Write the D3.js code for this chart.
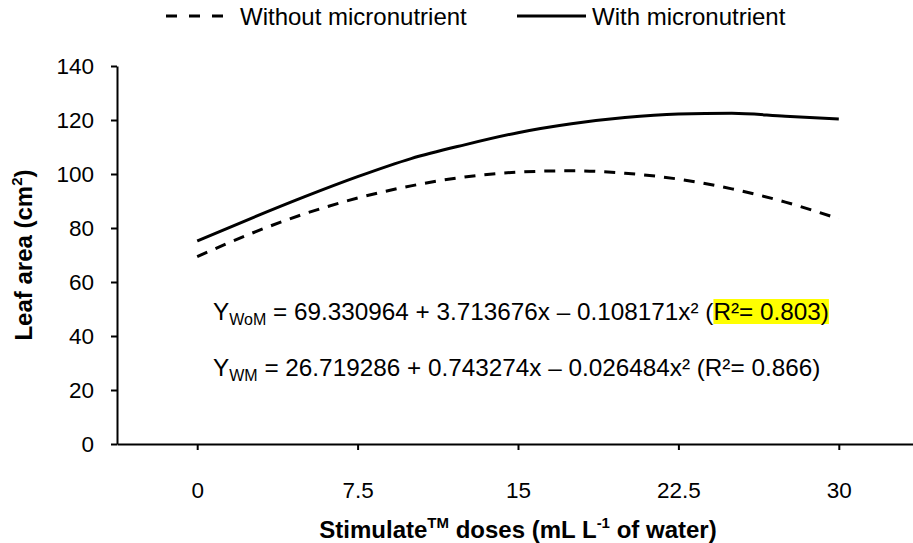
<!DOCTYPE html>
<html>
<head>
<meta charset="utf-8">
<script src="https://cdn.jsdelivr.net/npm/d3@7"></script>
<style>
  body { margin: 0; background: #fff; }
  svg { display: block; font-family: "Liberation Sans", Arial, sans-serif; }
</style>
</head>
<body>
<div id="chart"></div>
<script>
// data
const doses = [0, 2.5, 5, 7.5, 10, 12.5, 15, 17.5, 20, 22.5, 25, 27.5, 30];
const withoutMicro = [69.4, 77.9, 85.2, 91.1, 95.6, 98.9, 100.7, 101.2, 100.3, 98.1, 94.5, 89.6, 83.4];
const withMicro = [75.2, 83.5, 91.5, 99.0, 105.7, 110.8, 115.3, 118.6, 120.9, 122.2, 122.5, 121.4, 120.4];
const xTicks = [0, 7.5, 15, 22.5, 30];
const yTicks = [0, 20, 40, 60, 80, 100, 120, 140];
const legendLabels = ["Without micronutrient", "With micronutrient"];
const eqWoM = ["Y", "WoM", " = 69.330964 + 3.713676x – 0.108171x² (", "R²= 0.803)"];
const eqWM = ["Y", "WM", " = 26.719286 + 0.743274x – 0.026484x² (R²= 0.866)"];

let width = 913,
  height = 543,
  margin = ({ top: 66, right: 0, bottom: 99, left: 117 });

const svg = d3.select("#chart")
  .append("svg")
  .attr("width", width)
  .attr("height", height);

let x = d3.scaleLinear()
  .domain([-3.75, 33.75])
  .range([margin.left, 919]);

let y = d3.scaleLinear()
  .domain([0, 140])
  .range([height - margin.bottom, margin.top]);

// y axis
let yAxis = svg.append("g")
  .attr("transform", `translate(${margin.left},0)`)
  .call(d3.axisLeft(y)
    .tickValues(yTicks)
    .tickSize(6)
    .tickSizeOuter(0)
    .tickPadding(17)
  );
yAxis.select(".domain").attr("stroke-width", 2);
yAxis.selectAll(".tick line").attr("stroke-width", 2);
yAxis.selectAll(".tick text")
  .attr("font-family", "'Liberation Sans', Arial, sans-serif")
  .attr("font-size", 22.5)
  .attr("fill", "#000");

// x axis
let xAxis = svg.append("g")
  .attr("transform", `translate(0,${height - margin.bottom})`)
  .call(d3.axisBottom(x)
    .tickValues(xTicks)
    .tickSize(6)
    .tickSizeOuter(0)
    .tickFormat(d => d)
  );
xAxis.select(".domain").attr("stroke-width", 2);
xAxis.selectAll(".tick line").attr("stroke-width", 2);
xAxis.selectAll(".tick text")
  .attr("y", 54)
  .attr("dy", 0)
  .attr("font-family", "'Liberation Sans', Arial, sans-serif")
  .attr("font-size", 22.5)
  .attr("fill", "#000");

// axis titles (centred on the plot area, as Excel does)
let xLabel = svg.append("text")
  .attr("x", d3.mean(x.range()))
  .attr("y", 538)
  .attr("text-anchor", "middle")
  .attr("font-size", 24)
  .attr("font-weight", "bold");
xLabel.append("tspan").text("Stimulate");
xLabel.append("tspan").attr("font-size", 15).attr("dy", -10).text("TM");
xLabel.append("tspan").attr("dy", 10).text(" doses (mL L");
xLabel.append("tspan").attr("font-size", 15).attr("dy", -10).text("-1");
xLabel.append("tspan").attr("dy", 10).text(" of water)");

let yLabel = svg.append("text")
  .attr("transform", `translate(32,${d3.mean(y.range())}) rotate(-90)`)
  .attr("text-anchor", "middle")
  .attr("font-size", 24)
  .attr("font-weight", "bold");
yLabel.append("tspan").text("Leaf area (cm");
yLabel.append("tspan").attr("font-size", 15).attr("dy", -10).text("2");
yLabel.append("tspan").attr("dy", 10).text(")");

// lines
let line = d3.line()
  .x((d, i) => x(doses[i]))
  .y(d => y(d))
  .curve(d3.curveMonotoneX);

svg.append("path")
  .datum(withoutMicro)
  .attr("fill", "none")
  .attr("stroke", "#000")
  .attr("stroke-width", 3)
  .attr("stroke-dasharray", "11,9")
  .attr("d", line);

svg.append("path")
  .datum(withMicro)
  .attr("fill", "none")
  .attr("stroke", "#000")
  .attr("stroke-width", 3)
  .attr("d", line);

// legend
let legend = svg.append("g").attr("font-size", 24);
legend.append("line")
  .attr("x1", 166).attr("x2", 223).attr("y1", 16).attr("y2", 16)
  .attr("stroke", "#000").attr("stroke-width", 3).attr("stroke-dasharray", "11,12");
legend.append("text").attr("x", 240).attr("y", 25).text(legendLabels[0]);
legend.append("line")
  .attr("x1", 517).attr("x2", 586).attr("y1", 16).attr("y2", 16)
  .attr("stroke", "#000").attr("stroke-width", 3);
legend.append("text").attr("x", 592).attr("y", 25).text(legendLabels[1]);

// regression equations
function equation(parts, yPos) {
  let t = svg.append("text")
    .attr("x", 213)
    .attr("y", yPos)
    .attr("font-size", 24.3);
  t.append("tspan").text(parts[0]);
  t.append("tspan").attr("font-size", 16).attr("dy", 5).text(parts[1]);
  t.append("tspan").attr("dy", -5).text(parts[2]);
  let hl = null;
  if (parts[3]) hl = t.append("tspan").text(parts[3]);
  return { t, hl };
}

let eq1 = equation(eqWoM, 320);
equation(eqWM, 376);

// yellow highlight behind the first R²
let bb = eq1.hl.node().getBBox();
svg.insert("rect", () => eq1.t.node())
  .attr("x", bb.x)
  .attr("y", bb.y + 1)
  .attr("width", bb.width)
  .attr("height", bb.height - 2)
  .attr("fill", "#ffff00");
</script>
</body>
</html>
